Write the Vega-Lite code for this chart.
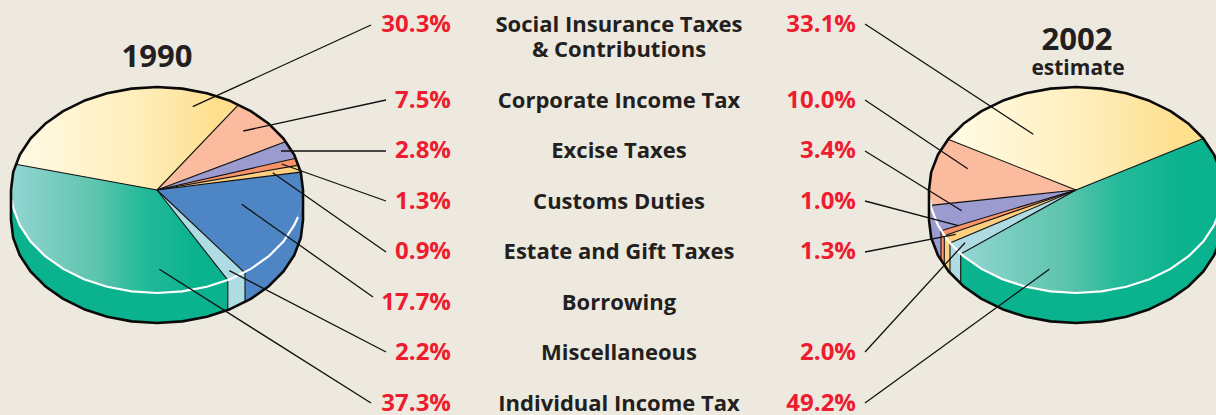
{
"$schema":"https://vega.github.io/schema/vega-lite/v6.json",
"width":1216,"height":415,"padding":0,"autosize":{"type":"none"},
"background":"#ede9df",
"view":{"stroke":null},
"datasets":{
"shapes":[
{"pie":"1990","part":"side","category":"Individual Income Tax","i":0,"x":11,"y":190},{"pie":"1990","part":"side","category":"Individual Income Tax","i":1,"x":13.2,"y":207.9},{"pie":"1990","part":"side","category":"Individual Income Tax","i":2,"x":19.8,"y":225.2},{"pie":"1990","part":"side","category":"Individual Income Tax","i":3,"x":30.6,"y":241.5},{"pie":"1990","part":"side","category":"Individual Income Tax","i":4,"x":45.2,"y":256.2},{"pie":"1990","part":"side","category":"Individual Income Tax","i":5,"x":63.2,"y":268.9},{"pie":"1990","part":"side","category":"Individual Income Tax","i":6,"x":84,"y":279.2},{"pie":"1990","part":"side","category":"Individual Income Tax","i":7,"x":107.1,"y":286.8},{"pie":"1990","part":"side","category":"Individual Income Tax","i":8,"x":131.7,"y":291.4},{"pie":"1990","part":"side","category":"Individual Income Tax","i":9,"x":157,"y":293},{"pie":"1990","part":"side","category":"Individual Income Tax","i":10,"x":182.3,"y":291.4},{"pie":"1990","part":"side","category":"Individual Income Tax","i":11,"x":206.9,"y":286.8},{"pie":"1990","part":"side","category":"Individual Income Tax","i":12,"x":227.8,"y":280.1},{"pie":"1990","part":"side","category":"Individual Income Tax","i":13,"x":227.8,"y":310.1},{"pie":"1990","part":"side","category":"Individual Income Tax","i":14,"x":206.9,"y":316.8},{"pie":"1990","part":"side","category":"Individual Income Tax","i":15,"x":182.3,"y":321.4},{"pie":"1990","part":"side","category":"Individual Income Tax","i":16,"x":157,"y":323},{"pie":"1990","part":"side","category":"Individual Income Tax","i":17,"x":131.7,"y":321.4},{"pie":"1990","part":"side","category":"Individual Income Tax","i":18,"x":107.1,"y":316.8},{"pie":"1990","part":"side","category":"Individual Income Tax","i":19,"x":84,"y":309.2},{"pie":"1990","part":"side","category":"Individual Income Tax","i":20,"x":63.2,"y":298.9},{"pie":"1990","part":"side","category":"Individual Income Tax","i":21,"x":45.2,"y":286.2},{"pie":"1990","part":"side","category":"Individual Income Tax","i":22,"x":30.6,"y":271.5},{"pie":"1990","part":"side","category":"Individual Income Tax","i":23,"x":19.8,"y":255.2},{"pie":"1990","part":"side","category":"Individual Income Tax","i":24,"x":13.2,"y":237.9},{"pie":"1990","part":"side","category":"Individual Income Tax","i":25,"x":11,"y":220},{"pie":"1990","part":"side","category":"Individual Income Tax","i":26,"x":11,"y":190},
{"pie":"1990","part":"side","category":"Miscellaneous","i":0,"x":227.8,"y":280.1},{"pie":"1990","part":"side","category":"Miscellaneous","i":1,"x":245,"y":273},{"pie":"1990","part":"side","category":"Miscellaneous","i":2,"x":245,"y":303},{"pie":"1990","part":"side","category":"Miscellaneous","i":3,"x":227.8,"y":310.1},{"pie":"1990","part":"side","category":"Miscellaneous","i":4,"x":227.8,"y":280.1},
{"pie":"1990","part":"side","category":"Borrowing","i":0,"x":245,"y":273},{"pie":"1990","part":"side","category":"Borrowing","i":1,"x":250.8,"y":268.9},{"pie":"1990","part":"side","category":"Borrowing","i":2,"x":268.8,"y":256.2},{"pie":"1990","part":"side","category":"Borrowing","i":3,"x":283.4,"y":241.5},{"pie":"1990","part":"side","category":"Borrowing","i":4,"x":294.2,"y":225.2},{"pie":"1990","part":"side","category":"Borrowing","i":5,"x":300.8,"y":207.9},{"pie":"1990","part":"side","category":"Borrowing","i":6,"x":303,"y":190},{"pie":"1990","part":"side","category":"Borrowing","i":7,"x":303,"y":220},{"pie":"1990","part":"side","category":"Borrowing","i":8,"x":300.8,"y":237.9},{"pie":"1990","part":"side","category":"Borrowing","i":9,"x":294.2,"y":255.2},{"pie":"1990","part":"side","category":"Borrowing","i":10,"x":283.4,"y":271.5},{"pie":"1990","part":"side","category":"Borrowing","i":11,"x":268.8,"y":286.2},{"pie":"1990","part":"side","category":"Borrowing","i":12,"x":250.8,"y":298.9},{"pie":"1990","part":"side","category":"Borrowing","i":13,"x":245,"y":303},{"pie":"1990","part":"side","category":"Borrowing","i":14,"x":245,"y":273},
{"pie":"1990","part":"top","category":"Corporate Income Tax","i":0,"x":157,"y":190},{"pie":"1990","part":"top","category":"Corporate Income Tax","i":1,"x":238.6,"y":104.6},{"pie":"1990","part":"top","category":"Corporate Income Tax","i":2,"x":250.8,"y":111.1},{"pie":"1990","part":"top","category":"Corporate Income Tax","i":3,"x":268.8,"y":123.8},{"pie":"1990","part":"top","category":"Corporate Income Tax","i":4,"x":283.4,"y":138.5},{"pie":"1990","part":"top","category":"Corporate Income Tax","i":5,"x":285.9,"y":141.6},{"pie":"1990","part":"top","category":"Corporate Income Tax","i":6,"x":157,"y":190},
{"pie":"1990","part":"top","category":"Excise Taxes","i":0,"x":157,"y":190},{"pie":"1990","part":"top","category":"Excise Taxes","i":1,"x":285.9,"y":141.6},{"pie":"1990","part":"top","category":"Excise Taxes","i":2,"x":294.2,"y":154.8},{"pie":"1990","part":"top","category":"Excise Taxes","i":3,"x":295.9,"y":158.2},{"pie":"1990","part":"top","category":"Excise Taxes","i":4,"x":157,"y":190},
{"pie":"1990","part":"top","category":"Customs Duties","i":0,"x":157,"y":190},{"pie":"1990","part":"top","category":"Customs Duties","i":1,"x":295.9,"y":158.2},{"pie":"1990","part":"top","category":"Customs Duties","i":2,"x":298.7,"y":165.1},{"pie":"1990","part":"top","category":"Customs Duties","i":3,"x":157,"y":190},
{"pie":"1990","part":"top","category":"Estate and Gift Taxes","i":0,"x":157,"y":190},{"pie":"1990","part":"top","category":"Estate and Gift Taxes","i":1,"x":298.7,"y":165.1},{"pie":"1990","part":"top","category":"Estate and Gift Taxes","i":2,"x":300.8,"y":172.1},{"pie":"1990","part":"top","category":"Estate and Gift Taxes","i":3,"x":157,"y":190},
{"pie":"1990","part":"top","category":"Borrowing","i":0,"x":157,"y":190},{"pie":"1990","part":"top","category":"Borrowing","i":1,"x":300.8,"y":172.1},{"pie":"1990","part":"top","category":"Borrowing","i":2,"x":303,"y":190},{"pie":"1990","part":"top","category":"Borrowing","i":3,"x":300.8,"y":207.9},{"pie":"1990","part":"top","category":"Borrowing","i":4,"x":294.2,"y":225.2},{"pie":"1990","part":"top","category":"Borrowing","i":5,"x":283.4,"y":241.5},{"pie":"1990","part":"top","category":"Borrowing","i":6,"x":268.8,"y":256.2},{"pie":"1990","part":"top","category":"Borrowing","i":7,"x":250.8,"y":268.9},{"pie":"1990","part":"top","category":"Borrowing","i":8,"x":245,"y":273},{"pie":"1990","part":"top","category":"Borrowing","i":9,"x":157,"y":190},
{"pie":"1990","part":"top","category":"Miscellaneous","i":0,"x":157,"y":190},{"pie":"1990","part":"top","category":"Miscellaneous","i":1,"x":245,"y":273},{"pie":"1990","part":"top","category":"Miscellaneous","i":2,"x":227.8,"y":280.1},{"pie":"1990","part":"top","category":"Miscellaneous","i":3,"x":157,"y":190},
{"pie":"1990","part":"gradient","category":"Social Insurance Taxes & Contributions","i":0,"x":157,"y":190},{"pie":"1990","part":"gradient","category":"Social Insurance Taxes & Contributions","i":1,"x":15.7,"y":164.2},{"pie":"1990","part":"gradient","category":"Social Insurance Taxes & Contributions","i":2,"x":19.8,"y":154.8},{"pie":"1990","part":"gradient","category":"Social Insurance Taxes & Contributions","i":3,"x":30.6,"y":138.5},{"pie":"1990","part":"gradient","category":"Social Insurance Taxes & Contributions","i":4,"x":45.2,"y":123.8},{"pie":"1990","part":"gradient","category":"Social Insurance Taxes & Contributions","i":5,"x":63.2,"y":111.1},{"pie":"1990","part":"gradient","category":"Social Insurance Taxes & Contributions","i":6,"x":84,"y":100.8},{"pie":"1990","part":"gradient","category":"Social Insurance Taxes & Contributions","i":7,"x":107.1,"y":93.2},{"pie":"1990","part":"gradient","category":"Social Insurance Taxes & Contributions","i":8,"x":131.7,"y":88.6},{"pie":"1990","part":"gradient","category":"Social Insurance Taxes & Contributions","i":9,"x":157,"y":87},{"pie":"1990","part":"gradient","category":"Social Insurance Taxes & Contributions","i":10,"x":182.3,"y":88.6},{"pie":"1990","part":"gradient","category":"Social Insurance Taxes & Contributions","i":11,"x":206.9,"y":93.2},{"pie":"1990","part":"gradient","category":"Social Insurance Taxes & Contributions","i":12,"x":230,"y":100.8},{"pie":"1990","part":"gradient","category":"Social Insurance Taxes & Contributions","i":13,"x":238.6,"y":104.6},{"pie":"1990","part":"gradient","category":"Social Insurance Taxes & Contributions","i":14,"x":157,"y":190},
{"pie":"1990","part":"gradient","category":"Individual Income Tax","i":0,"x":157,"y":190},{"pie":"1990","part":"gradient","category":"Individual Income Tax","i":1,"x":227.8,"y":280.1},{"pie":"1990","part":"gradient","category":"Individual Income Tax","i":2,"x":206.9,"y":286.8},{"pie":"1990","part":"gradient","category":"Individual Income Tax","i":3,"x":182.3,"y":291.4},{"pie":"1990","part":"gradient","category":"Individual Income Tax","i":4,"x":157,"y":293},{"pie":"1990","part":"gradient","category":"Individual Income Tax","i":5,"x":131.7,"y":291.4},{"pie":"1990","part":"gradient","category":"Individual Income Tax","i":6,"x":107.1,"y":286.8},{"pie":"1990","part":"gradient","category":"Individual Income Tax","i":7,"x":84,"y":279.2},{"pie":"1990","part":"gradient","category":"Individual Income Tax","i":8,"x":63.2,"y":268.9},{"pie":"1990","part":"gradient","category":"Individual Income Tax","i":9,"x":45.2,"y":256.2},{"pie":"1990","part":"gradient","category":"Individual Income Tax","i":10,"x":30.6,"y":241.5},{"pie":"1990","part":"gradient","category":"Individual Income Tax","i":11,"x":19.8,"y":225.2},{"pie":"1990","part":"gradient","category":"Individual Income Tax","i":12,"x":13.2,"y":207.9},{"pie":"1990","part":"gradient","category":"Individual Income Tax","i":13,"x":11,"y":190},{"pie":"1990","part":"gradient","category":"Individual Income Tax","i":14,"x":13.2,"y":172.1},{"pie":"1990","part":"gradient","category":"Individual Income Tax","i":15,"x":15.7,"y":164.2},{"pie":"1990","part":"gradient","category":"Individual Income Tax","i":16,"x":157,"y":190},
{"pie":"1990","part":"rim","category":"rim","i":0,"x":11.8,"y":200},{"pie":"1990","part":"rim","category":"rim","i":1,"x":13.2,"y":207.9},{"pie":"1990","part":"rim","category":"rim","i":2,"x":19.8,"y":225.2},{"pie":"1990","part":"rim","category":"rim","i":3,"x":30.6,"y":241.5},{"pie":"1990","part":"rim","category":"rim","i":4,"x":45.2,"y":256.2},{"pie":"1990","part":"rim","category":"rim","i":5,"x":63.2,"y":268.9},{"pie":"1990","part":"rim","category":"rim","i":6,"x":84,"y":279.2},{"pie":"1990","part":"rim","category":"rim","i":7,"x":107.1,"y":286.8},{"pie":"1990","part":"rim","category":"rim","i":8,"x":131.7,"y":291.4},{"pie":"1990","part":"rim","category":"rim","i":9,"x":157,"y":293},{"pie":"1990","part":"rim","category":"rim","i":10,"x":182.3,"y":291.4},{"pie":"1990","part":"rim","category":"rim","i":11,"x":206.9,"y":286.8},{"pie":"1990","part":"rim","category":"rim","i":12,"x":230,"y":279.2},{"pie":"1990","part":"rim","category":"rim","i":13,"x":250.8,"y":268.9},{"pie":"1990","part":"rim","category":"rim","i":14,"x":268.8,"y":256.2},{"pie":"1990","part":"rim","category":"rim","i":15,"x":283.4,"y":241.5},{"pie":"1990","part":"rim","category":"rim","i":16,"x":294.2,"y":225.2},{"pie":"1990","part":"rim","category":"rim","i":17,"x":298,"y":217},
{"pie":"1990","part":"outline","category":"outline","i":0,"x":11,"y":190},{"pie":"1990","part":"outline","category":"outline","i":1,"x":13.2,"y":172.1},{"pie":"1990","part":"outline","category":"outline","i":2,"x":19.8,"y":154.8},{"pie":"1990","part":"outline","category":"outline","i":3,"x":30.6,"y":138.5},{"pie":"1990","part":"outline","category":"outline","i":4,"x":45.2,"y":123.8},{"pie":"1990","part":"outline","category":"outline","i":5,"x":63.2,"y":111.1},{"pie":"1990","part":"outline","category":"outline","i":6,"x":84,"y":100.8},{"pie":"1990","part":"outline","category":"outline","i":7,"x":107.1,"y":93.2},{"pie":"1990","part":"outline","category":"outline","i":8,"x":131.7,"y":88.6},{"pie":"1990","part":"outline","category":"outline","i":9,"x":157,"y":87},{"pie":"1990","part":"outline","category":"outline","i":10,"x":182.3,"y":88.6},{"pie":"1990","part":"outline","category":"outline","i":11,"x":206.9,"y":93.2},{"pie":"1990","part":"outline","category":"outline","i":12,"x":230,"y":100.8},{"pie":"1990","part":"outline","category":"outline","i":13,"x":250.8,"y":111.1},{"pie":"1990","part":"outline","category":"outline","i":14,"x":268.8,"y":123.8},{"pie":"1990","part":"outline","category":"outline","i":15,"x":283.4,"y":138.5},{"pie":"1990","part":"outline","category":"outline","i":16,"x":294.2,"y":154.8},{"pie":"1990","part":"outline","category":"outline","i":17,"x":300.8,"y":172.1},{"pie":"1990","part":"outline","category":"outline","i":18,"x":303,"y":190},{"pie":"1990","part":"outline","category":"outline","i":19,"x":303,"y":220},{"pie":"1990","part":"outline","category":"outline","i":20,"x":300.8,"y":237.9},{"pie":"1990","part":"outline","category":"outline","i":21,"x":294.2,"y":255.2},{"pie":"1990","part":"outline","category":"outline","i":22,"x":283.4,"y":271.5},{"pie":"1990","part":"outline","category":"outline","i":23,"x":268.8,"y":286.2},{"pie":"1990","part":"outline","category":"outline","i":24,"x":250.8,"y":298.9},{"pie":"1990","part":"outline","category":"outline","i":25,"x":230,"y":309.2},{"pie":"1990","part":"outline","category":"outline","i":26,"x":206.9,"y":316.8},{"pie":"1990","part":"outline","category":"outline","i":27,"x":182.3,"y":321.4},{"pie":"1990","part":"outline","category":"outline","i":28,"x":157,"y":323},{"pie":"1990","part":"outline","category":"outline","i":29,"x":131.7,"y":321.4},{"pie":"1990","part":"outline","category":"outline","i":30,"x":107.1,"y":316.8},{"pie":"1990","part":"outline","category":"outline","i":31,"x":84,"y":309.2},{"pie":"1990","part":"outline","category":"outline","i":32,"x":63.2,"y":298.9},{"pie":"1990","part":"outline","category":"outline","i":33,"x":45.2,"y":286.2},{"pie":"1990","part":"outline","category":"outline","i":34,"x":30.6,"y":271.5},{"pie":"1990","part":"outline","category":"outline","i":35,"x":19.8,"y":255.2},{"pie":"1990","part":"outline","category":"outline","i":36,"x":13.2,"y":237.9},{"pie":"1990","part":"outline","category":"outline","i":37,"x":11,"y":220},{"pie":"1990","part":"outline","category":"outline","i":38,"x":11,"y":190},

{"pie":"2002","part":"side","category":"Corporate Income Tax","i":0,"x":929,"y":190},{"pie":"2002","part":"side","category":"Corporate Income Tax","i":1,"x":930.6,"y":205.4},{"pie":"2002","part":"side","category":"Corporate Income Tax","i":2,"x":930.6,"y":235.4},{"pie":"2002","part":"side","category":"Corporate Income Tax","i":3,"x":929,"y":220},{"pie":"2002","part":"side","category":"Corporate Income Tax","i":4,"x":929,"y":190},
{"pie":"2002","part":"side","category":"Excise Taxes","i":0,"x":930.6,"y":205.4},{"pie":"2002","part":"side","category":"Excise Taxes","i":1,"x":937.9,"y":225.2},{"pie":"2002","part":"side","category":"Excise Taxes","i":2,"x":941,"y":230.8},{"pie":"2002","part":"side","category":"Excise Taxes","i":3,"x":941,"y":260.8},{"pie":"2002","part":"side","category":"Excise Taxes","i":4,"x":937.9,"y":255.2},{"pie":"2002","part":"side","category":"Excise Taxes","i":5,"x":930.6,"y":235.4},{"pie":"2002","part":"side","category":"Excise Taxes","i":6,"x":930.6,"y":205.4},
{"pie":"2002","part":"side","category":"Customs Duties","i":0,"x":941,"y":230.8},{"pie":"2002","part":"side","category":"Customs Duties","i":1,"x":944.3,"y":235.7},{"pie":"2002","part":"side","category":"Customs Duties","i":2,"x":944.3,"y":265.7},{"pie":"2002","part":"side","category":"Customs Duties","i":3,"x":941,"y":260.8},{"pie":"2002","part":"side","category":"Customs Duties","i":4,"x":941,"y":230.8},
{"pie":"2002","part":"side","category":"Estate and Gift Taxes","i":0,"x":944.3,"y":235.7},{"pie":"2002","part":"side","category":"Estate and Gift Taxes","i":1,"x":950,"y":243},{"pie":"2002","part":"side","category":"Estate and Gift Taxes","i":2,"x":950,"y":273},{"pie":"2002","part":"side","category":"Estate and Gift Taxes","i":3,"x":944.3,"y":265.7},{"pie":"2002","part":"side","category":"Estate and Gift Taxes","i":4,"x":944.3,"y":235.7},
{"pie":"2002","part":"side","category":"Miscellaneous","i":0,"x":950,"y":243},{"pie":"2002","part":"side","category":"Miscellaneous","i":1,"x":960.7,"y":253.9},{"pie":"2002","part":"side","category":"Miscellaneous","i":2,"x":960.7,"y":283.9},{"pie":"2002","part":"side","category":"Miscellaneous","i":3,"x":950,"y":273},{"pie":"2002","part":"side","category":"Miscellaneous","i":4,"x":950,"y":243},
{"pie":"2002","part":"side","category":"Individual Income Tax","i":0,"x":960.7,"y":253.9},{"pie":"2002","part":"side","category":"Individual Income Tax","i":1,"x":963.4,"y":256.2},{"pie":"2002","part":"side","category":"Individual Income Tax","i":2,"x":981.5,"y":268.9},{"pie":"2002","part":"side","category":"Individual Income Tax","i":3,"x":1002.5,"y":279.2},{"pie":"2002","part":"side","category":"Individual Income Tax","i":4,"x":1025.7,"y":286.8},{"pie":"2002","part":"side","category":"Individual Income Tax","i":5,"x":1050.5,"y":291.4},{"pie":"2002","part":"side","category":"Individual Income Tax","i":6,"x":1076,"y":293},{"pie":"2002","part":"side","category":"Individual Income Tax","i":7,"x":1101.5,"y":291.4},{"pie":"2002","part":"side","category":"Individual Income Tax","i":8,"x":1126.3,"y":286.8},{"pie":"2002","part":"side","category":"Individual Income Tax","i":9,"x":1149.5,"y":279.2},{"pie":"2002","part":"side","category":"Individual Income Tax","i":10,"x":1170.5,"y":268.9},{"pie":"2002","part":"side","category":"Individual Income Tax","i":11,"x":1188.6,"y":256.2},{"pie":"2002","part":"side","category":"Individual Income Tax","i":12,"x":1203.3,"y":241.5},{"pie":"2002","part":"side","category":"Individual Income Tax","i":13,"x":1214.1,"y":225.2},{"pie":"2002","part":"side","category":"Individual Income Tax","i":14,"x":1220.8,"y":207.9},{"pie":"2002","part":"side","category":"Individual Income Tax","i":15,"x":1223,"y":190},{"pie":"2002","part":"side","category":"Individual Income Tax","i":16,"x":1223,"y":220},{"pie":"2002","part":"side","category":"Individual Income Tax","i":17,"x":1220.8,"y":237.9},{"pie":"2002","part":"side","category":"Individual Income Tax","i":18,"x":1214.1,"y":255.2},{"pie":"2002","part":"side","category":"Individual Income Tax","i":19,"x":1203.3,"y":271.5},{"pie":"2002","part":"side","category":"Individual Income Tax","i":20,"x":1188.6,"y":286.2},{"pie":"2002","part":"side","category":"Individual Income Tax","i":21,"x":1170.5,"y":298.9},{"pie":"2002","part":"side","category":"Individual Income Tax","i":22,"x":1149.5,"y":309.2},{"pie":"2002","part":"side","category":"Individual Income Tax","i":23,"x":1126.3,"y":316.8},{"pie":"2002","part":"side","category":"Individual Income Tax","i":24,"x":1101.5,"y":321.4},{"pie":"2002","part":"side","category":"Individual Income Tax","i":25,"x":1076,"y":323},{"pie":"2002","part":"side","category":"Individual Income Tax","i":26,"x":1050.5,"y":321.4},{"pie":"2002","part":"side","category":"Individual Income Tax","i":27,"x":1025.7,"y":316.8},{"pie":"2002","part":"side","category":"Individual Income Tax","i":28,"x":1002.5,"y":309.2},{"pie":"2002","part":"side","category":"Individual Income Tax","i":29,"x":981.5,"y":298.9},{"pie":"2002","part":"side","category":"Individual Income Tax","i":30,"x":963.4,"y":286.2},{"pie":"2002","part":"side","category":"Individual Income Tax","i":31,"x":960.7,"y":283.9},{"pie":"2002","part":"side","category":"Individual Income Tax","i":32,"x":960.7,"y":253.9},
{"pie":"2002","part":"top","category":"Corporate Income Tax","i":0,"x":1076,"y":190},{"pie":"2002","part":"top","category":"Corporate Income Tax","i":1,"x":948,"y":139.3},{"pie":"2002","part":"top","category":"Corporate Income Tax","i":2,"x":937.9,"y":154.8},{"pie":"2002","part":"top","category":"Corporate Income Tax","i":3,"x":931.2,"y":172.1},{"pie":"2002","part":"top","category":"Corporate Income Tax","i":4,"x":929,"y":190},{"pie":"2002","part":"top","category":"Corporate Income Tax","i":5,"x":930.6,"y":205.4},{"pie":"2002","part":"top","category":"Corporate Income Tax","i":6,"x":1076,"y":190},
{"pie":"2002","part":"top","category":"Excise Taxes","i":0,"x":1076,"y":190},{"pie":"2002","part":"top","category":"Excise Taxes","i":1,"x":930.6,"y":205.4},{"pie":"2002","part":"top","category":"Excise Taxes","i":2,"x":937.9,"y":225.2},{"pie":"2002","part":"top","category":"Excise Taxes","i":3,"x":941,"y":230.8},{"pie":"2002","part":"top","category":"Excise Taxes","i":4,"x":1076,"y":190},
{"pie":"2002","part":"top","category":"Customs Duties","i":0,"x":1076,"y":190},{"pie":"2002","part":"top","category":"Customs Duties","i":1,"x":941,"y":230.8},{"pie":"2002","part":"top","category":"Customs Duties","i":2,"x":944.3,"y":235.7},{"pie":"2002","part":"top","category":"Customs Duties","i":3,"x":1076,"y":190},
{"pie":"2002","part":"top","category":"Estate and Gift Taxes","i":0,"x":1076,"y":190},{"pie":"2002","part":"top","category":"Estate and Gift Taxes","i":1,"x":944.3,"y":235.7},{"pie":"2002","part":"top","category":"Estate and Gift Taxes","i":2,"x":950,"y":243},{"pie":"2002","part":"top","category":"Estate and Gift Taxes","i":3,"x":1076,"y":190},
{"pie":"2002","part":"top","category":"Miscellaneous","i":0,"x":1076,"y":190},{"pie":"2002","part":"top","category":"Miscellaneous","i":1,"x":950,"y":243},{"pie":"2002","part":"top","category":"Miscellaneous","i":2,"x":960.7,"y":253.9},{"pie":"2002","part":"top","category":"Miscellaneous","i":3,"x":1076,"y":190},
{"pie":"2002","part":"gradient","category":"Social Insurance Taxes & Contributions","i":0,"x":1076,"y":190},{"pie":"2002","part":"gradient","category":"Social Insurance Taxes & Contributions","i":1,"x":948,"y":139.3},{"pie":"2002","part":"gradient","category":"Social Insurance Taxes & Contributions","i":2,"x":963.4,"y":123.8},{"pie":"2002","part":"gradient","category":"Social Insurance Taxes & Contributions","i":3,"x":981.5,"y":111.1},{"pie":"2002","part":"gradient","category":"Social Insurance Taxes & Contributions","i":4,"x":1002.5,"y":100.8},{"pie":"2002","part":"gradient","category":"Social Insurance Taxes & Contributions","i":5,"x":1025.7,"y":93.2},{"pie":"2002","part":"gradient","category":"Social Insurance Taxes & Contributions","i":6,"x":1050.5,"y":88.6},{"pie":"2002","part":"gradient","category":"Social Insurance Taxes & Contributions","i":7,"x":1076,"y":87},{"pie":"2002","part":"gradient","category":"Social Insurance Taxes & Contributions","i":8,"x":1101.5,"y":88.6},{"pie":"2002","part":"gradient","category":"Social Insurance Taxes & Contributions","i":9,"x":1126.3,"y":93.2},{"pie":"2002","part":"gradient","category":"Social Insurance Taxes & Contributions","i":10,"x":1149.5,"y":100.8},{"pie":"2002","part":"gradient","category":"Social Insurance Taxes & Contributions","i":11,"x":1170.5,"y":111.1},{"pie":"2002","part":"gradient","category":"Social Insurance Taxes & Contributions","i":12,"x":1188.6,"y":123.8},{"pie":"2002","part":"gradient","category":"Social Insurance Taxes & Contributions","i":13,"x":1203.3,"y":138.5},{"pie":"2002","part":"gradient","category":"Social Insurance Taxes & Contributions","i":14,"x":1076,"y":190},
{"pie":"2002","part":"gradient","category":"Individual Income Tax","i":0,"x":1076,"y":190},{"pie":"2002","part":"gradient","category":"Individual Income Tax","i":1,"x":960.7,"y":253.9},{"pie":"2002","part":"gradient","category":"Individual Income Tax","i":2,"x":963.4,"y":256.2},{"pie":"2002","part":"gradient","category":"Individual Income Tax","i":3,"x":981.5,"y":268.9},{"pie":"2002","part":"gradient","category":"Individual Income Tax","i":4,"x":1002.5,"y":279.2},{"pie":"2002","part":"gradient","category":"Individual Income Tax","i":5,"x":1025.7,"y":286.8},{"pie":"2002","part":"gradient","category":"Individual Income Tax","i":6,"x":1050.5,"y":291.4},{"pie":"2002","part":"gradient","category":"Individual Income Tax","i":7,"x":1076,"y":293},{"pie":"2002","part":"gradient","category":"Individual Income Tax","i":8,"x":1101.5,"y":291.4},{"pie":"2002","part":"gradient","category":"Individual Income Tax","i":9,"x":1126.3,"y":286.8},{"pie":"2002","part":"gradient","category":"Individual Income Tax","i":10,"x":1149.5,"y":279.2},{"pie":"2002","part":"gradient","category":"Individual Income Tax","i":11,"x":1170.5,"y":268.9},{"pie":"2002","part":"gradient","category":"Individual Income Tax","i":12,"x":1188.6,"y":256.2},{"pie":"2002","part":"gradient","category":"Individual Income Tax","i":13,"x":1203.3,"y":241.5},{"pie":"2002","part":"gradient","category":"Individual Income Tax","i":14,"x":1214.1,"y":225.2},{"pie":"2002","part":"gradient","category":"Individual Income Tax","i":15,"x":1220.8,"y":207.9},{"pie":"2002","part":"gradient","category":"Individual Income Tax","i":16,"x":1223,"y":190},{"pie":"2002","part":"gradient","category":"Individual Income Tax","i":17,"x":1220.8,"y":172.1},{"pie":"2002","part":"gradient","category":"Individual Income Tax","i":18,"x":1214.1,"y":154.8},{"pie":"2002","part":"gradient","category":"Individual Income Tax","i":19,"x":1203.3,"y":138.5},{"pie":"2002","part":"gradient","category":"Individual Income Tax","i":20,"x":1076,"y":190},
{"pie":"2002","part":"rim","category":"rim","i":0,"x":930,"y":199},{"pie":"2002","part":"rim","category":"rim","i":1,"x":931.2,"y":207.9},{"pie":"2002","part":"rim","category":"rim","i":2,"x":937.9,"y":225.2},{"pie":"2002","part":"rim","category":"rim","i":3,"x":948.7,"y":241.5},{"pie":"2002","part":"rim","category":"rim","i":4,"x":963.4,"y":256.2},{"pie":"2002","part":"rim","category":"rim","i":5,"x":981.5,"y":268.9},{"pie":"2002","part":"rim","category":"rim","i":6,"x":1002.5,"y":279.2},{"pie":"2002","part":"rim","category":"rim","i":7,"x":1025.7,"y":286.8},{"pie":"2002","part":"rim","category":"rim","i":8,"x":1050.5,"y":291.4},{"pie":"2002","part":"rim","category":"rim","i":9,"x":1076,"y":293},{"pie":"2002","part":"rim","category":"rim","i":10,"x":1101.5,"y":291.4},{"pie":"2002","part":"rim","category":"rim","i":11,"x":1126.3,"y":286.8},{"pie":"2002","part":"rim","category":"rim","i":12,"x":1149.5,"y":279.2},{"pie":"2002","part":"rim","category":"rim","i":13,"x":1170.5,"y":268.9},{"pie":"2002","part":"rim","category":"rim","i":14,"x":1188.6,"y":256.2},{"pie":"2002","part":"rim","category":"rim","i":15,"x":1203.3,"y":241.5},{"pie":"2002","part":"rim","category":"rim","i":16,"x":1214.1,"y":225.2},{"pie":"2002","part":"rim","category":"rim","i":17,"x":1220.8,"y":207.9},
{"pie":"2002","part":"outline","category":"outline","i":0,"x":929,"y":190},{"pie":"2002","part":"outline","category":"outline","i":1,"x":931.2,"y":172.1},{"pie":"2002","part":"outline","category":"outline","i":2,"x":937.9,"y":154.8},{"pie":"2002","part":"outline","category":"outline","i":3,"x":948.7,"y":138.5},{"pie":"2002","part":"outline","category":"outline","i":4,"x":963.4,"y":123.8},{"pie":"2002","part":"outline","category":"outline","i":5,"x":981.5,"y":111.1},{"pie":"2002","part":"outline","category":"outline","i":6,"x":1002.5,"y":100.8},{"pie":"2002","part":"outline","category":"outline","i":7,"x":1025.7,"y":93.2},{"pie":"2002","part":"outline","category":"outline","i":8,"x":1050.5,"y":88.6},{"pie":"2002","part":"outline","category":"outline","i":9,"x":1076,"y":87},{"pie":"2002","part":"outline","category":"outline","i":10,"x":1101.5,"y":88.6},{"pie":"2002","part":"outline","category":"outline","i":11,"x":1126.3,"y":93.2},{"pie":"2002","part":"outline","category":"outline","i":12,"x":1149.5,"y":100.8},{"pie":"2002","part":"outline","category":"outline","i":13,"x":1170.5,"y":111.1},{"pie":"2002","part":"outline","category":"outline","i":14,"x":1188.6,"y":123.8},{"pie":"2002","part":"outline","category":"outline","i":15,"x":1203.3,"y":138.5},{"pie":"2002","part":"outline","category":"outline","i":16,"x":1214.1,"y":154.8},{"pie":"2002","part":"outline","category":"outline","i":17,"x":1220.8,"y":172.1},{"pie":"2002","part":"outline","category":"outline","i":18,"x":1223,"y":190},{"pie":"2002","part":"outline","category":"outline","i":19,"x":1223,"y":220},{"pie":"2002","part":"outline","category":"outline","i":20,"x":1220.8,"y":237.9},{"pie":"2002","part":"outline","category":"outline","i":21,"x":1214.1,"y":255.2},{"pie":"2002","part":"outline","category":"outline","i":22,"x":1203.3,"y":271.5},{"pie":"2002","part":"outline","category":"outline","i":23,"x":1188.6,"y":286.2},{"pie":"2002","part":"outline","category":"outline","i":24,"x":1170.5,"y":298.9},{"pie":"2002","part":"outline","category":"outline","i":25,"x":1149.5,"y":309.2},{"pie":"2002","part":"outline","category":"outline","i":26,"x":1126.3,"y":316.8},{"pie":"2002","part":"outline","category":"outline","i":27,"x":1101.5,"y":321.4},{"pie":"2002","part":"outline","category":"outline","i":28,"x":1076,"y":323},{"pie":"2002","part":"outline","category":"outline","i":29,"x":1050.5,"y":321.4},{"pie":"2002","part":"outline","category":"outline","i":30,"x":1025.7,"y":316.8},{"pie":"2002","part":"outline","category":"outline","i":31,"x":1002.5,"y":309.2},{"pie":"2002","part":"outline","category":"outline","i":32,"x":981.5,"y":298.9},{"pie":"2002","part":"outline","category":"outline","i":33,"x":963.4,"y":286.2},{"pie":"2002","part":"outline","category":"outline","i":34,"x":948.7,"y":271.5},{"pie":"2002","part":"outline","category":"outline","i":35,"x":937.9,"y":255.2},{"pie":"2002","part":"outline","category":"outline","i":36,"x":931.2,"y":237.9},{"pie":"2002","part":"outline","category":"outline","i":37,"x":929,"y":220},{"pie":"2002","part":"outline","category":"outline","i":38,"x":929,"y":190}
],
"dividers":[
{"pie":"1990","x":157,"y":190,"x2":15.7,"y2":164.2},
{"pie":"1990","x":157,"y":190,"x2":238.6,"y2":104.6},
{"pie":"1990","x":157,"y":190,"x2":285.9,"y2":141.6},
{"pie":"1990","x":157,"y":190,"x2":295.9,"y2":158.2},
{"pie":"1990","x":157,"y":190,"x2":298.7,"y2":165.1},
{"pie":"1990","x":157,"y":190,"x2":300.8,"y2":172.1},
{"pie":"1990","x":157,"y":190,"x2":245,"y2":273},
{"pie":"1990","x":157,"y":190,"x2":227.8,"y2":280.1},
{"pie":"1990","x":227.8,"y":280.1,"x2":227.8,"y2":310.1},
{"pie":"1990","x":245,"y":273,"x2":245,"y2":303},
{"pie":"2002","x":1076,"y":190,"x2":948,"y2":139.3},
{"pie":"2002","x":1076,"y":190,"x2":1203.3,"y2":138.5},
{"pie":"2002","x":1076,"y":190,"x2":930.6,"y2":205.4},
{"pie":"2002","x":1076,"y":190,"x2":941,"y2":230.8},
{"pie":"2002","x":1076,"y":190,"x2":944.3,"y2":235.7},
{"pie":"2002","x":1076,"y":190,"x2":950,"y2":243},
{"pie":"2002","x":1076,"y":190,"x2":960.7,"y2":253.9},
{"pie":"2002","x":941,"y":230.8,"x2":941,"y2":260.8},
{"pie":"2002","x":944.3,"y":235.7,"x2":944.3,"y2":265.7},
{"pie":"2002","x":950,"y":243,"x2":950,"y2":273},
{"pie":"2002","x":960.7,"y":253.9,"x2":960.7,"y2":283.9}
],
"leaders":[
{"pie":"1990","category":"Social Insurance Taxes & Contributions","x":371,"y":25,"x2":192.7,"y2":106.7},
{"pie":"1990","category":"Corporate Income Tax","x":386,"y":100,"x2":243.3,"y2":131},
{"pie":"1990","category":"Excise Taxes","x":386,"y":151,"x2":281,"y2":151},
{"pie":"1990","category":"Customs Duties","x":386,"y":201,"x2":281.7,"y2":164},
{"pie":"1990","category":"Estate and Gift Taxes","x":386,"y":252,"x2":272.7,"y2":172.7},
{"pie":"1990","category":"Borrowing","x":373,"y":297,"x2":241.7,"y2":204.3},
{"pie":"1990","category":"Miscellaneous","x":386,"y":352,"x2":229.3,"y2":270.7},
{"pie":"1990","category":"Individual Income Tax","x":371,"y":403,"x2":159.3,"y2":269.3},
{"pie":"2002","category":"Social Insurance Taxes & Contributions","x":865,"y":24,"x2":1033.3,"y2":134.3},
{"pie":"2002","category":"Corporate Income Tax","x":865,"y":100,"x2":967.7,"y2":168.7},
{"pie":"2002","category":"Excise Taxes","x":865,"y":151,"x2":961.7,"y2":210.7},
{"pie":"2002","category":"Customs Duties","x":865,"y":201,"x2":958.3,"y2":225.7},
{"pie":"2002","category":"Estate and Gift Taxes","x":865,"y":252,"x2":955.7,"y2":234.3},
{"pie":"2002","category":"Miscellaneous","x":865,"y":352,"x2":965,"y2":242.7},
{"pie":"2002","category":"Individual Income Tax","x":865,"y":403,"x2":1049.3,"y2":269.3}
],
"titles":[
{"label":"1990","x":157,"y":58,"kind":"year"},
{"label":"2002","x":1077,"y":41,"kind":"year"},
{"label":"estimate","x":1078,"y":69,"kind":"note"}
],
"shares":[
{"year":"1990","category":"Social Insurance Taxes & Contributions","row":0,"share":0.303},
{"year":"1990","category":"Corporate Income Tax","row":3,"share":0.075},
{"year":"1990","category":"Excise Taxes","row":5,"share":0.028},
{"year":"1990","category":"Customs Duties","row":7,"share":0.013},
{"year":"1990","category":"Estate and Gift Taxes","row":9,"share":0.009},
{"year":"1990","category":"Borrowing","row":11,"share":0.177},
{"year":"1990","category":"Miscellaneous","row":13,"share":0.022},
{"year":"1990","category":"Individual Income Tax","row":15,"share":0.373},
{"year":"2002","category":"Social Insurance Taxes & Contributions","row":0,"share":0.331},
{"year":"2002","category":"Corporate Income Tax","row":3,"share":0.10},
{"year":"2002","category":"Excise Taxes","row":5,"share":0.034},
{"year":"2002","category":"Customs Duties","row":7,"share":0.01},
{"year":"2002","category":"Estate and Gift Taxes","row":9,"share":0.013},
{"year":"2002","category":"Miscellaneous","row":13,"share":0.02},
{"year":"2002","category":"Individual Income Tax","row":15,"share":0.492}
],
"names":[
{"name":"Social Insurance Taxes","row":0},
{"name":"& Contributions","row":1},
{"name":"Corporate Income Tax","row":3},
{"name":"Excise Taxes","row":5},
{"name":"Customs Duties","row":7},
{"name":"Estate and Gift Taxes","row":9},
{"name":"Borrowing","row":11},
{"name":"Miscellaneous","row":13},
{"name":"Individual Income Tax","row":15}
]
},
"resolve":{"scale":{"x":"independent","y":"independent"}},
"layer":[
{
"data":{"name":"shapes"},
"encoding":{
"x":{"field":"x","type":"quantitative","scale":{"domain":[0,1216],"range":[0,1216]},"axis":null},
"y":{"field":"y","type":"quantitative","scale":{"domain":[0,415],"range":[0,415]},"axis":null}
},
"layer":[
{"transform":[{"filter":"datum.part==='side'||datum.part==='top'"}],
"mark":{"type":"line","strokeWidth":0,"clip":true},
"encoding":{
"fill":{"field":"category","type":"nominal","legend":null,"scale":{"domain":["Corporate Income Tax","Excise Taxes","Customs Duties","Estate and Gift Taxes","Borrowing","Miscellaneous","Individual Income Tax"],"range":["#fbbb9e","#9b9bcf","#f8936a","#fdcf7e","#4e85c4","#aedce2","#0ab28e"]}},
"detail":[{"field":"pie"},{"field":"part"}],
"order":{"field":"i","type":"quantitative"}}},
{"transform":[{"filter":"datum.part==='gradient'&&datum.category==='Social Insurance Taxes & Contributions'"}],
"mark":{"type":"line","strokeWidth":0,"clip":true,
"fill":{"gradient":"linear","x1":0,"x2":1,"y1":0,"y2":0,"stops":[{"offset":0,"color":"#fffbe6"},{"offset":0.55,"color":"#ffeebb"},{"offset":0.9,"color":"#fddf8e"},{"offset":1,"color":"#fddf8e"}]}},
"encoding":{"detail":{"field":"pie"},"order":{"field":"i","type":"quantitative"}}},
{"transform":[{"filter":"datum.part==='gradient'&&datum.category==='Individual Income Tax'"}],
"mark":{"type":"line","strokeWidth":0,"clip":true,
"fill":{"gradient":"linear","x1":0,"x2":1,"y1":0,"y2":0,"stops":[{"offset":0,"color":"#93d5d2"},{"offset":0.4,"color":"#5cc4ad"},{"offset":0.6,"color":"#25ba9a"},{"offset":0.85,"color":"#0ab28e"},{"offset":1,"color":"#0ab28e"}]}},
"encoding":{"detail":{"field":"pie"},"order":{"field":"i","type":"quantitative"}}},
{"data":{"name":"dividers"},
"mark":{"type":"rule","stroke":"#111111","strokeWidth":1.1},
"encoding":{"x2":{"field":"x2"},"y2":{"field":"y2"}}},
{"transform":[{"filter":"datum.part==='rim'"}],
"mark":{"type":"line","stroke":"#ffffff","strokeWidth":2.2,"clip":true},
"encoding":{"detail":{"field":"pie"},"order":{"field":"i","type":"quantitative"}}},
{"transform":[{"filter":"datum.part==='outline'"}],
"mark":{"type":"line","stroke":"#0a0a0a","strokeWidth":2.6,"clip":true,"strokeJoin":"round"},
"encoding":{"detail":{"field":"pie"},"order":{"field":"i","type":"quantitative"}}},
{"data":{"name":"leaders"},
"mark":{"type":"rule","stroke":"#111111","strokeWidth":1.3},
"encoding":{"x2":{"field":"x2"},"y2":{"field":"y2"}}},
{"data":{"name":"titles"},
"mark":{"type":"text","font":"Open Sans","fontWeight":"bold","color":"#231f20","baseline":"middle","align":"center"},
"encoding":{"text":{"field":"label"},
"size":{"field":"kind","type":"nominal","legend":null,"scale":{"domain":["year","note"],"range":[31,21]}}}}
]
},
{
"data":{"name":"shares"},
"mark":{"type":"text","font":"Open Sans","fontWeight":"bold","fontSize":24,"color":"#ed1c2e","align":"right","baseline":"middle"},
"encoding":{
"x":{"field":"year","type":"nominal","axis":null,"scale":{"type":"point","domain":["1990","2002"],"range":[451,856],"padding":0}},
"y":{"field":"row","type":"quantitative","axis":null,"scale":{"domain":[0,15],"range":[25,404]}},
"text":{"field":"share","type":"quantitative","format":".1%"}
}
},
{
"data":{"name":"names"},
"mark":{"type":"text","font":"Open Sans","fontWeight":"bold","fontSize":22,"color":"#231f20","align":"center","baseline":"middle"},
"encoding":{
"x":{"datum":"names","type":"nominal","axis":null,"scale":{"type":"point","domain":["names"],"range":[619,619],"padding":0}},
"y":{"field":"row","type":"quantitative","axis":null,"scale":{"domain":[0,15],"range":[25,404]}},
"text":{"field":"name"}
}
}
]
}
